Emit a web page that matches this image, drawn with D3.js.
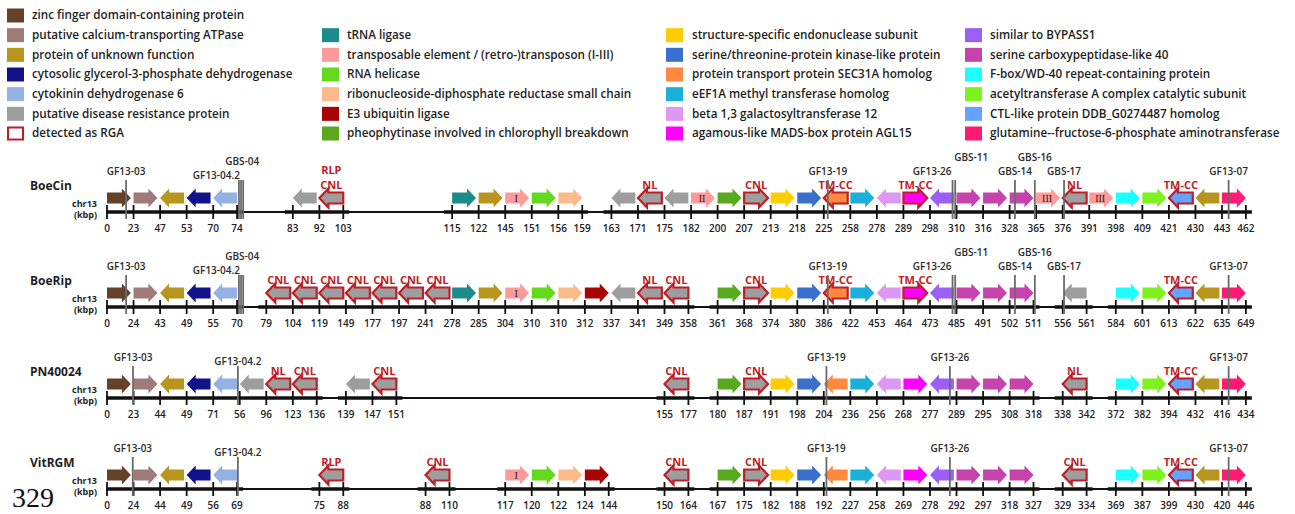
<!DOCTYPE html>
<html>
<head>
<meta charset="utf-8">
<script src="https://cdn.jsdelivr.net/npm/d3@7"></script>
<style>
  html, body { margin: 0; padding: 0; background: #fff; }
  svg { display: block; font-family: "Open Sans", "DejaVu Sans", sans-serif; }
</style>
</head>
<body>
<svg id="chart" width="1295" height="514"></svg>
<script>
// ---- gene categories -------------------------------------------------------
const categoryKeys = ["zf", "ca", "uf", "gp", "ck", "dr",
                      "tr", "te", "rh", "rr", "e3", "ph",
                      "se", "sk", "sc", "em", "bg", "ag",
                      "by", "cp", "fb", "ac", "ct", "gf"];
const categoryNames = [
  "zinc finger domain-containing protein",
  "putative calcium-transporting ATPase",
  "protein of unknown function",
  "cytosolic glycerol-3-phosphate dehydrogenase",
  "cytokinin dehydrogenase 6",
  "putative disease resistance protein",
  "tRNA ligase",
  "transposable element / (retro-)transposon (I-III)",
  "RNA helicase",
  "ribonucleoside-diphosphate reductase small chain",
  "E3 ubiquitin ligase",
  "pheophytinase involved in chlorophyll breakdown",
  "structure-specific endonuclease subunit",
  "serine/threonine-protein kinase-like protein",
  "protein transport protein SEC31A homolog",
  "eEF1A methyl transferase homolog",
  "beta 1,3 galactosyltransferase 12",
  "agamous-like MADS-box protein AGL15",
  "similar to BYPASS1",
  "serine carboxypeptidase-like 40",
  "F-box/WD-40 repeat-containing protein",
  "acetyltransferase A complex catalytic subunit",
  "CTL-like protein DDB_G0274487 homolog",
  "glutamine--fructose-6-phosphate aminotransferase"
];
const categoryColors = [
  "#66412a", "#9e7b79", "#b8951c", "#12128a", "#93b1e3", "#9e9e9e",
  "#1b8b8b", "#fd9a9a", "#64d81c", "#fdbb8c", "#a80404", "#58a91e",
  "#ffcc00", "#3a6fcb", "#ff8a3d", "#1ab0da", "#dc98f2", "#ff00ff",
  "#9c5ff6", "#c642ad", "#1cffff", "#7ef21c", "#66a2ff", "#ff1a72"
];
const rgaLegendLabel = "detected as RGA";

// ---- tracks ----------------------------------------------------------------
// gene code: category + strand (+/-), optional ":RGA class", optional "#TE number"
// null = empty slot in the map
const trackNames = ["BoeCin", "BoeRip", "PN40024", "VitRGM"];

const boeCinGenes = [
  "zf+", "ca+", "uf-", "gp-", "ck-", null, null, "dr-", "dr-:RLP/CNL",
  null, null, null, null, "tr+", "uf+", "te+#I", "rh+", "rr+", null,
  "dr-", "dr-:NL", "dr-", "te+#II", "ph+", "dr+:CNL", "se+", "sk+", "sc-:TM-CC",
  "em+", "bg-", "ag+:TM-CC", "by-", "cp+", "cp+", "cp+", "te+#III", "dr-:NL",
  "te+#III", "fb+", "ac+", "ct-:TM-CC", "uf-", "gf+"
];
const boeCinTicks = [
  "0", "23", "47", "53", "70", "74", "83", "92", "103",
  "115", "122", "145", "151", "156", "159",
  "163", "171", "175", "182", "200", "207", "213", "218", "225", "258", "278",
  "289", "298", "310", "316", "328", "365", "376", "391", "398", "409", "421",
  "430", "443", "462"
];
const boeCinMarkers = [
  { name: "GF13-03", at: [0.72] },
  { name: "GF13-04.2", at: [4.97] },
  { name: "GBS-04", at: [5.05, 5.13] },
  { name: "GF13-19", at: [27.15] },
  { name: "GF13-26", at: [31.85] },
  { name: "GBS-11", at: [31.95] },
  { name: "GBS-14", at: [34.2] },
  { name: "GBS-16", at: [34.95] },
  { name: "GBS-17", at: [36.05] },
  { name: "GF13-07", at: [42.25] }
];

const boeRipGenes = [
  "zf+", "ca+", "uf-", "gp-", "ck-", null,
  "dr-:CNL", "dr-:CNL", "dr-:CNL", "dr-:CNL", "dr-:CNL", "dr-:CNL", "dr-:CNL",
  "tr+", "uf+", "te+#I", "rh+", "rr+", "e3+", "dr-", "dr-:NL", "dr-:CNL", null,
  "ph+", "dr+:CNL", "se+", "sk+", "sc-:TM-CC", "em+", "bg-", "ag+:TM-CC", "by-",
  "cp+", "cp+", "cp+", null, "dr-", null,
  "fb+", "ac+", "ct-:TM-CC", "uf-", "gf+"
];
const boeRipTicks = [
  "0", "24", "43", "49", "55", "70",
  "79", "104", "119", "149", "177", "197", "241", "278", "285", "304", "310",
  "310", "312", "337", "341", "349", "358",
  "361", "368", "374", "380", "386", "422", "453", "464", "473", "485", "491",
  "502", "511", "556", "561", "584", "601", "613", "622", "635", "649"
];
const boeRipMarkers = [
  { name: "GF13-03", at: [0.72] },
  { name: "GF13-04.2", at: [4.97] },
  { name: "GBS-04", at: [5.05, 5.13] },
  { name: "GF13-19", at: [27.15] },
  { name: "GF13-26", at: [31.85] },
  { name: "GBS-11", at: [31.95] },
  { name: "GBS-14", at: [34.2] },
  { name: "GBS-16", at: [34.95] },
  { name: "GBS-17", at: [36.05] },
  { name: "GF13-07", at: [42.25] }
];

const pn40024Genes = [
  "zf+", "ca+", "uf-", "gp-", "ck-", "dr-", "dr-:NL", "dr-:CNL", null,
  "dr-", "dr-:CNL", null, null, null, null, null, null, null, null, null, null,
  "dr-:CNL", null,
  "ph+", "dr+:CNL", "se+", "sk+", "sc-", "em+", "bg-", "ag+", "by-",
  "cp+", "cp+", "cp+", null, "dr-:NL", null,
  "fb+", "ac+", "ct-:TM-CC", "uf-", "gf+"
];
const pn40024Ticks = [
  "0", "23", "44", "49", "71", "56", "96", "123", "136",
  "139", "147", "151", "155", "177",
  "180", "187", "191", "198", "204", "236", "256", "268", "277", "289", "295",
  "308", "318", "338", "342", "372", "382", "394", "432", "416", "434"
];
const pn40024Markers = [
  { name: "GF13-03", at: [0.98] },
  { name: "GF13-04.2", at: [4.93] },
  { name: "GF13-19", at: [27.1] },
  { name: "GF13-26", at: [31.75] },
  { name: "GF13-07", at: [42.25] }
];

const vitRGMGenes = [
  "zf+", "ca+", "uf-", "gp-", "ck-", null, null, null, "dr-:RLP",
  null, null, null, "dr-:CNL", null, null,
  "te+#I", "rh+", "rr+", "e3+", null, null, "dr-:CNL", null,
  "ph+", "dr+:CNL", "se+", "sk+", "sc-", "em+", "bg-", "ag+", "by-",
  "cp+", "cp+", "cp+", null, "dr-:CNL", null,
  "fb+", "ac+", "ct-:TM-CC", "uf-", "gf+"
];
const vitRGMTicks = [
  "0", "24", "44", "49", "56", "69", "75", "88", "88", "110",
  "117", "120", "122", "124", "144", "150", "164",
  "167", "175", "182", "188", "192", "227", "258", "269", "278", "292", "297",
  "318", "327", "329", "334", "369", "387", "399", "430", "420", "446"
];
const vitRGMMarkers = [
  { name: "GF13-03", at: [0.97] },
  { name: "GF13-04.2", at: [4.93] },
  { name: "GF13-19", at: [27.1] },
  { name: "GF13-26", at: [31.75] },
  { name: "GF13-07", at: [42.25] }
];

const pageNumber = "329";

// ---- layout ----------------------------------------------------------------
const svg = d3.select("#chart");
const color = d3.scaleOrdinal().domain(categoryKeys).range(categoryColors);
const nameOf = d3.scaleOrdinal().domain(categoryKeys).range(categoryNames);

const slotCount = boeCinGenes.length;            // 43 slots per track
const x = d3.scaleLinear().domain([0, slotCount - 1]).range([107, 1222]);
const arrowSlots = 0.9;                           // arrow length in slot units
const axisYOf = { BoeCin: 212, BoeRip: 307, PN40024: 398, VitRGM: 489 };

const RGA_RED = "#be1e26";
const TEXT = "#1e1e1e";

// ---- legend ----------------------------------------------------------------
const legendCols = [
  { sx: 7,   tx: 32,  keys: ["zf", "ca", "uf", "gp", "ck", "dr", "RGA"], row0: 0 },
  { sx: 322, tx: 347, keys: ["tr", "te", "rh", "rr", "e3", "ph"], row0: 1 },
  { sx: 666, tx: 692, keys: ["se", "sk", "sc", "em", "bg", "ag"], row0: 1 },
  { sx: 965, tx: 990, keys: ["by", "cp", "fb", "ac", "ct", "gf"], row0: 1 }
];
const legendRow = d3.scaleLinear().domain([0, 6]).range([15, 133]);
const legend = svg.append("g").attr("class", "legend");
legendCols.forEach(col => {
  col.keys.forEach((k, i) => {
    const cy = legendRow(col.row0 + i);
    const isRGA = k === "RGA";
    legend.append("rect")
      .attr("x", col.sx + (isRGA ? 1 : 0)).attr("y", cy - 6.5 + (isRGA ? 1 : 0))
      .attr("width", isRGA ? 15 : 17).attr("height", isRGA ? 12 : 14)
      .attr("fill", isRGA ? "#fff" : color(k))
      .attr("stroke", isRGA ? RGA_RED : "none")
      .attr("stroke-width", isRGA ? 2 : 0);
    legend.append("text")
      .attr("x", col.tx).attr("y", cy).attr("dy", "0.36em")
      .attr("font-size", 11.7).attr("font-weight", 600).attr("fill", TEXT)
      .text(isRGA ? rgaLegendLabel : nameOf(k));
  });
});

// ---- helpers ---------------------------------------------------------------
function parseGene(code, slot) {
  if (code === null) return null;
  const m = code.match(/^([a-z0-9]{2})([+-])(?::([^#]+))?(?:#(.+))?$/);
  return { cat: m[1], dir: m[2] === "+" ? 1 : -1, rga: m[3] || null, te: m[4] || null, slot };
}

function arrowPath(x0, x1, cy, dir) {
  const bh = 5.5, hh = 9.5, hl = 9;
  const pts = dir > 0
    ? [[x0, cy - bh], [x1 - hl, cy - bh], [x1 - hl, cy - hh], [x1, cy], [x1 - hl, cy + hh], [x1 - hl, cy + bh], [x0, cy + bh]]
    : [[x1, cy - bh], [x0 + hl, cy - bh], [x0 + hl, cy - hh], [x0, cy], [x0 + hl, cy + hh], [x0 + hl, cy + bh], [x1, cy + bh]];
  return d3.line()(pts) + "Z";
}

// vertical offset of each marker label from the chromosome axis
const markerLevel = { "GBS-04": -51, "GBS-11": -55, "GBS-16": -55, "GF13-04.2": -37 };

// ---- tracks ----------------------------------------------------------------
const trackData = {
  BoeCin: [boeCinGenes, boeCinTicks, boeCinMarkers],
  BoeRip: [boeRipGenes, boeRipTicks, boeRipMarkers],
  PN40024: [pn40024Genes, pn40024Ticks, pn40024Markers],
  VitRGM: [vitRGMGenes, vitRGMTicks, vitRGMMarkers]
};

trackNames.forEach(tn => {
  const [codes, tickLabels, markers] = trackData[tn];
  const ay = axisYOf[tn];
  const cy = ay - 14;
  const g = svg.append("g").attr("class", "track");
  const genes = codes.map(parseGene).filter(d => d);

  // contiguous blocks of genes
  const blocks = [];
  genes.forEach(d => {
    const last = blocks[blocks.length - 1];
    if (last && last[last.length - 1].slot === d.slot - 1) last.push(d);
    else blocks.push([d]);
  });

  // tick positions: start of each gene, plus the end of each block
  const tickPos = [];
  blocks.forEach(b => {
    b.forEach(d => tickPos.push(d.slot));
    tickPos.push(b[b.length - 1].slot + arrowSlots);
  });

  // track labels
  g.append("text").attr("x", 30).attr("y", ay - 26).attr("dy", "0.36em")
    .attr("font-size", 12).attr("font-weight", 700).attr("fill", TEXT).text(tn);
  g.append("text").attr("x", 97).attr("y", ay - 8).attr("dy", "0.36em")
    .attr("text-anchor", "end").attr("font-size", 9).attr("font-weight", 700)
    .attr("fill", TEXT).text("chr13");
  g.append("text").attr("x", 97).attr("y", ay + 3).attr("dy", "0.36em")
    .attr("text-anchor", "end").attr("font-size", 9).attr("font-weight", 700)
    .attr("fill", TEXT).text("(kbp)");

  // chromosome baseline and gene blocks
  g.append("line")
    .attr("x1", x(0) - 1).attr("x2", x(slotCount - 1 + arrowSlots) + 5)
    .attr("y1", ay).attr("y2", ay).attr("stroke", "#111").attr("stroke-width", 2);
  g.selectAll("line.block").data(blocks).join("line").attr("class", "block")
    .attr("x1", b => x(b[0].slot) - (b[0].slot === 0 ? 1 : 8))
    .attr("x2", b => x(b[b.length - 1].slot + arrowSlots) + 6)
    .attr("y1", ay).attr("y2", ay).attr("stroke", "#111").attr("stroke-width", 3.6);

  // ticks
  g.selectAll("line.tick").data(tickPos).join("line").attr("class", "tick")
    .attr("x1", d => x(d)).attr("x2", d => x(d))
    .attr("y1", ay - 7).attr("y2", ay + 7)
    .attr("stroke", "#111").attr("stroke-width", 1.8);
  g.selectAll("text.tl").data(tickPos).join("text").attr("class", "tl")
    .attr("x", d => x(d)).attr("y", ay + 16).attr("dy", "0.36em")
    .attr("text-anchor", "middle").attr("font-size", 10).attr("font-weight", 600)
    .attr("fill", "#222").text((d, i) => tickLabels[i]);

  // genes
  g.selectAll("path.gene").data(genes).join("path").attr("class", "gene")
    .attr("d", d => arrowPath(x(d.slot), x(d.slot + arrowSlots), cy, d.dir))
    .attr("fill", d => color(d.cat))
    .attr("stroke", d => d.rga ? RGA_RED : "none")
    .attr("stroke-width", d => d.rga ? 2.2 : 0)
    .attr("stroke-linejoin", "miter");

  // transposon numbers
  g.selectAll("text.te").data(genes.filter(d => d.te)).join("text").attr("class", "te")
    .attr("x", d => x(d.slot + arrowSlots / 2) - 1).attr("y", cy).attr("dy", "0.35em")
    .attr("text-anchor", "middle").attr("font-family", "Liberation Serif, serif")
    .attr("font-size", 10).attr("fill", "#222").text(d => d.te);

  // RGA class labels (stacked lines in one text element)
  genes.filter(d => d.rga).forEach(d => {
    const lines = d.rga.split("/");
    const cx = x(d.slot + arrowSlots / 2);
    const t = g.append("text")
      .attr("text-anchor", "middle").attr("font-size", 11).attr("font-weight", 700)
      .attr("fill", RGA_RED);
    lines.forEach((s, i) => {
      t.append("tspan").attr("x", cx)
        .attr("y", ay - 27 - (lines.length - 1 - i) * 15).attr("dy", "0.36em").text(s);
    });
  });

  // markers
  const names = markers.map(m => m.name);
  markers.forEach(m => {
    m.at.forEach(p => {
      g.append("line").attr("x1", x(p)).attr("x2", x(p))
        .attr("y1", ay - 32).attr("y2", ay + 7)
        .attr("stroke", "#6a6a6a").attr("stroke-width", 1.8);
    });
    let anchor = "middle", lx = x(d3.mean(m.at));
    if (m.name === "GF13-04.2" && names.includes("GBS-04")) { anchor = "end"; lx = x(m.at[0]) + 1; }
    if (m.name === "GF13-26" && names.includes("GBS-11")) { anchor = "end"; lx = x(m.at[0]) - 1; }
    if (m.name === "GBS-11") { anchor = "start"; lx = x(m.at[0]) - 1; }
    g.append("text").attr("x", lx).attr("y", ay + (markerLevel[m.name] ?? -41))
      .attr("dy", "0.36em").attr("text-anchor", anchor)
      .attr("font-size", 10).attr("font-weight", 600).attr("fill", "#2a2a2a").text(m.name);
  });
});

// page number
svg.append("text").attr("x", 12).attr("y", 507)
  .attr("font-family", "Liberation Serif, serif").attr("font-size", 28)
  .attr("fill", "#111").text(pageNumber);
</script>
</body>
</html>
